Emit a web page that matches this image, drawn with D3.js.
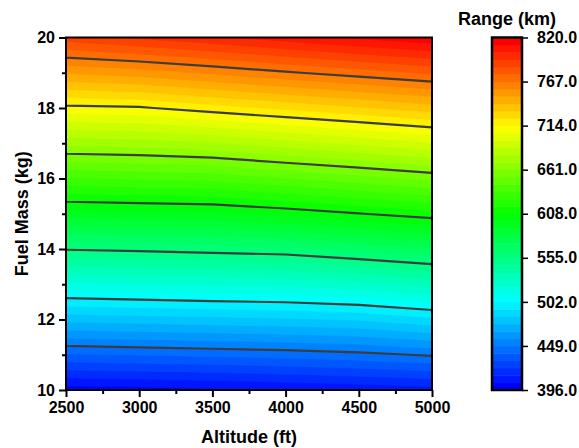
<!DOCTYPE html>
<html>
<head>
<meta charset="utf-8">
<script src="https://cdn.jsdelivr.net/npm/d3@7"></script>
<style>
body { margin: 0; background: #fff; }
text { font-family: "Liberation Sans", Arial, sans-serif; font-weight: bold; fill: #000; }
</style>
</head>
<body>
<svg class="chart" width="579" height="448"></svg>
<script>
// Grid: rows = fuel mass, columns = altitude, values = range (km)
var altitudes = [2500, 3000, 3500, 4000, 4500, 5000];
var fuelMasses = [10, 11, 12, 13, 14, 15, 16, 17, 18, 19, 20];
var rangeGrid = [
	[400.3, 401.5, 403.1, 405.0, 407.3, 409.5],
	[439.2, 440.8, 442.3, 443.9, 446.3, 450.2],
	[478.4, 480.0, 481.6, 482.9, 485.2, 491.0],
	[517.4, 518.9, 520.6, 521.9, 525.6, 531.8],
	[555.8, 557.3, 559.2, 561.1, 566.8, 572.4],
	[594.7, 596.3, 597.6, 601.9, 607.6, 613.0],
	[633.7, 635.3, 637.1, 642.7, 648.4, 654.4],
	[672.6, 674.2, 677.6, 683.6, 689.4, 695.5],
	[711.3, 712.8, 718.9, 724.7, 730.4, 736.4],
	[750.2, 753.9, 759.7, 765.8, 771.5, 777.2],
	[789.2, 795.0, 800.4, 806.9, 812.6, 818.0]
];

var xTicks = [2500, 3000, 3500, 4000, 4500, 5000];
var xMinorTicks = [2750, 3250, 3750, 4250, 4750];
var yTicks = [10, 12, 14, 16, 18, 20];
var yMinorTicks = [11, 13, 15, 17, 19];
var colorTicks = [396, 449, 502, 555, 608, 661, 714, 767, 820];
var lineLevels = [449, 502, 555, 608, 661, 714, 767];
var rangeMin = 396, rangeMax = 820, nBands = 48;

// Dimensions

var plot = {left: 66, right: 432, top: 37.5, bottom: 390};
var bar = {left: 492, right: 522};

var svg = d3.select(".chart");

var x = d3.scaleLinear().domain([2500, 5000]).range([plot.left, plot.right]);
var y = d3.scaleLinear().domain([10, 20]).range([plot.bottom, plot.top]);
var cy = d3.scaleLinear().domain([rangeMin, rangeMax]).range([plot.bottom, plot.top]);

var rainbow = d3.scaleLinear()
	.domain([0, 0.25, 0.5, 0.75, 1])
	.range(["#0000ff", "#00ffff", "#00ff00", "#ffff00", "#ff0000"]);

var step = (rangeMax - rangeMin) / nBands;
var thresholds = d3.range(nBands).map(function(i) { return rangeMin + i * step; });
function bandColor(i) { return rainbow(i / (nBands - 1)); }

// Contours from the grid (d3 puts grid value i at coordinate i + 0.5)

var values = [].concat.apply([], rangeGrid);
var contours = d3.contours().size([altitudes.length, fuelMasses.length]);
var altStep = altitudes[1] - altitudes[0], fuelStep = fuelMasses[1] - fuelMasses[0];

var gridToPx = d3.geoPath(d3.geoTransform({
	point: function(c, r) {
		this.stream.point(x(altitudes[0] + (c - 0.5) * altStep), y(fuelMasses[0] + (r - 0.5) * fuelStep));
	}
}));

svg.append("clipPath").attr("id", "plotClip")
	.append("rect")
	.attr("x", plot.left).attr("y", plot.top)
	.attr("width", plot.right - plot.left).attr("height", plot.bottom - plot.top);

var field = svg.append("g").attr("clip-path", "url(#plotClip)");

field.selectAll("path.band")
	.data(contours.thresholds(thresholds)(values))
.enter().append("path")
	.attr("class", "band")
	.attr("d", gridToPx)
	.style("fill", function(d, i) { return bandColor(i); })
	.style("stroke", function(d, i) { return bandColor(i); })
	.style("stroke-width", 0.5);

field.selectAll("path.level")
	.data(contours.thresholds(lineLevels)(values))
.enter().append("path")
	.attr("class", "level")
	.attr("d", gridToPx)
	.style("fill", "none")
	.style("stroke", "#3c3c3c")
	.style("stroke-width", 2.2);

// Axes

function styleAxis(g) {
	g.select(".domain").remove();
	g.selectAll(".tick line").style("stroke", "#000").style("stroke-width", 2);
	g.selectAll(".tick text").style("font-size", "16px").style("font-family", null);
}

svg.append("g")
	.attr("transform", "translate(0," + plot.bottom + ")")
	.call(d3.axisBottom(x).tickValues(xTicks).tickFormat(d3.format("d")).tickSize(7).tickPadding(5))
	.call(styleAxis);

svg.append("g")
	.attr("transform", "translate(0," + plot.bottom + ")")
	.call(d3.axisBottom(x).tickValues(xMinorTicks).tickSize(4).tickFormat(""))
	.call(styleAxis);

svg.append("g")
	.attr("transform", "translate(" + plot.left + ",0)")
	.call(d3.axisLeft(y).tickValues(yTicks).tickSize(7).tickPadding(4))
	.call(styleAxis);

svg.append("g")
	.attr("transform", "translate(" + plot.left + ",0)")
	.call(d3.axisLeft(y).tickValues(yMinorTicks).tickSize(4).tickFormat(""))
	.call(styleAxis);

svg.append("rect")
	.attr("x", plot.left).attr("y", plot.top)
	.attr("width", plot.right - plot.left).attr("height", plot.bottom - plot.top)
	.style("fill", "none").style("stroke", "#000").style("stroke-width", 2);

svg.append("text")
	.attr("x", (plot.left + plot.right) / 2)
	.attr("y", 443)
	.style("text-anchor", "middle")
	.style("font-size", "18px")
	.text("Altitude (ft)");

svg.append("text")
	.attr("transform", "translate(28," + (plot.top + plot.bottom) / 2 + ") rotate(-90)")
	.style("text-anchor", "middle")
	.style("font-size", "18px")
	.text("Fuel Mass (kg)");

// Color bar

svg.selectAll("rect.cbar")
	.data(thresholds)
.enter().append("rect")
	.attr("class", "cbar")
	.attr("x", bar.left)
	.attr("width", bar.right - bar.left)
	.attr("y", function(d) { return cy(d + step); })
	.attr("height", function(d) { return cy(d) - cy(d + step) + 0.5; })
	.style("fill", function(d, i) { return bandColor(i); });

svg.append("rect")
	.attr("x", bar.left).attr("y", plot.top)
	.attr("width", bar.right - bar.left).attr("height", plot.bottom - plot.top)
	.style("fill", "none").style("stroke", "#000").style("stroke-width", 2.5);

svg.append("g")
	.attr("transform", "translate(" + bar.right + ",0)")
	.call(d3.axisRight(cy).tickValues(colorTicks).tickFormat(d3.format(".1f")).tickSize(6).tickPadding(9))
	.call(styleAxis)
	.selectAll(".tick line").style("stroke-width", 1.5);

svg.append("text")
	.attr("x", (bar.left + bar.right) / 2)
	.attr("y", 25)
	.style("text-anchor", "middle")
	.style("font-size", "18px")
	.text("Range (km)");
</script>
</body>
</html>
